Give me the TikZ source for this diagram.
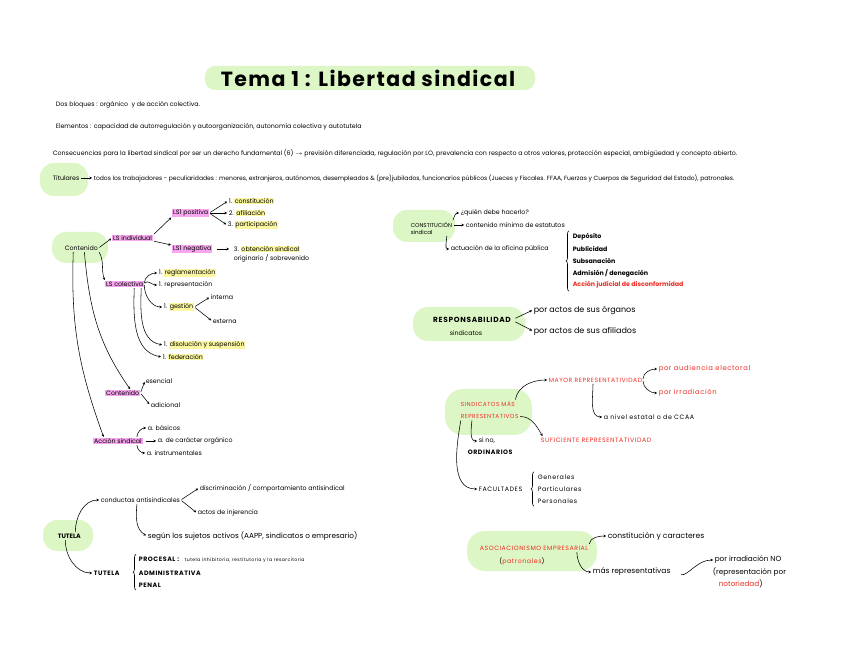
\documentclass[tikz,border=0pt]{standalone}
\usepackage{fontspec}
\setmainfont{Poppins}
\usetikzlibrary{arrows.meta,decorations.pathreplacing}
\definecolor{blob}{RGB}{221,246,197}
\definecolor{hlpink}{RGB}{246,165,238}
\definecolor{hlyel}{RGB}{250,247,160}
\definecolor{redt}{RGB}{238,45,35}
\newcommand\fs{\fontsize{6.3}{7.2}\selectfont}
\newcommand\lsp{\addfontfeature{LetterSpace=9}}
\newcommand\hly[1]{\begingroup\setlength\fboxsep{0.4pt}\colorbox{hlyel}{#1}\endgroup}
\begin{document}
\begin{tikzpicture}[x=1pt,y=1pt,
  t/.style={anchor=west, inner sep=0.6pt, font=\fs},
  pk/.style={fill=hlpink, inner ysep=0.4pt, inner xsep=1pt},
  rd/.style={text=redt},
  arr/.style={-{Stealth[length=2.6pt,width=2.6pt]}, line width=0.55pt, shorten >=1pt, shorten <=1pt},
  blobf/.style={fill=blob},
  brc/.style={decorate, decoration={brace, amplitude=3pt}, line width=0.55pt}]
\useasboundingbox (0,0) rectangle (848,656);
\fill[white] (0,0) rectangle (848,656);
% green blobs
\fill[blobf, rounded corners=10pt] (205,566) rectangle (535,590);
\fill[blobf, rounded corners=14pt] (40,460) rectangle (88,493);
\fill[blobf, rounded corners=14pt] (52,393) rectangle (108,424);
\fill[blobf, rounded corners=14pt] (43,105) rectangle (93,136);
\fill[blobf, rounded corners=14pt] (393,414) rectangle (455,446);
\fill[blobf, rounded corners=15pt] (413,315) rectangle (525,349);
\fill[blobf, rounded corners=18pt] (445,221) rectangle (532,267);
\fill[blobf, rounded corners=18pt] (467,85) rectangle (597,125);

% title and header lines
\node[font=\fontsize{20.5}{22}\selectfont\bfseries\addfontfeature{LetterSpace=7}] (title) at (368,578) {Tema 1 : Libertad sindical};
\node[t] (dos) at (55,551) {Dos bloques : orgánico \ y de acción colectiva.};
\node[t] (elem) at (55,529) {Elementos : capacidad de autorregulación y autoorganización, autonomía colectiva y autotutela};
\node[t] (cons) at (52,503) {Consecuencias para la libertad sindical por ser un derecho fundamental (6) $\rightarrow$ previsión diferenciada, regulación por LO, prevalencia con respecto a otros valores, protección especial, ambigüedad y concepto abierto.};
\node[t] (titul) at (52,478) {Titulares};
\node[t, font=\fontsize{6.05}{7}\selectfont] (todos) at (93,478) {todos los trabajadores - peculiaridades : menores, extranjeros, autónomos, desempleados \& (pre)jubilados, funcionarios públicos (Jueces y Fiscales. FFAA, Fuerzas y Cuerpos de Seguridad del Estado), patronales.};
\draw[arr] (titul.east) -- (todos.west);

% contenido tree
\node[t] (contenido) at (64,408) {Contenido};
\node[t,pk] (lsind) at (112,418) {LS individual};
\node[t,pk] (lspos) at (172,443) {LS1 positiva};
\node[t,pk] (lsneg) at (172,407) {LS1 negativa};
\node[t] (c1) at (228,455) {1. \hly{constitución}};
\node[t] (c2) at (228,443) {2. \hly{afiliación}};
\node[t] (c3) at (227,431) {3. \hly{participación}};
\node[t] (obt) at (233,407) {3. \hly{obtención sindical}};
\node[t] (orig) at (233,398) {originario / sobrevenido};
\node[t,pk] (lscol) at (105,372) {LS colectiva};
\node[t] (r1) at (158,383) {1. \hly{reglamentación}};
\node[t] (r2) at (158,371) {1. representación};
\node[t] (ges) at (163,349) {1. \hly{gestión}};
\node[t] (int) at (210,359) {interna};
\node[t] (ext) at (212,335) {externa};
\node[t] (dis) at (163,311) {1. \hly{disolución y suspensión}};
\node[t] (fed) at (162,299) {1. \hly{federación}};
\node[t,pk] (cont2) at (105,263) {Contenido};
\node[t] (esen) at (145,275) {esencial};
\node[t] (adic) at (150,251) {adicional};
\node[t,pk] (acc) at (93,215) {Acción sindical};
\node[t] (ab) at (147,228) {a. básicos};
\node[t] (ao) at (157,215) {a. de carácter orgánico};
\node[t] (ai) at (146,203) {a. instrumentales};

\draw[arr] (contenido.east) -- (lsind.west);
\draw[arr] (lsind.north east) -- (lspos.south west);
\draw[arr] (lsind.south east) -- (lsneg.north west);
\draw[arr] (lspos.east) -- (c1.west);
\draw[arr] (lspos.east) -- (c2.west);
\draw[arr] (lspos.east) -- (c3.west);
\draw[arr, shorten <=4pt, shorten >=4pt] (lsneg.east) -- (obt.west);
\draw[arr] (contenido.south east) to[out=-60,in=110] (lscol.north west);
\draw[arr] (lscol.east) to[out=90,in=180] (r1.west);
\draw[arr] (lscol.east) to[out=60,in=180] (r2.west);
\draw[arr] (lscol.east) to[out=-90,in=180] (ges.west);
\draw[arr] (ges.east) -- (int.west);
\draw[arr] (ges.east) -- (ext.west);
\draw[arr] ([xshift=-3pt]lscol.south east) to[out=-92,in=170] (dis.west);
\draw[arr] ([xshift=-10pt]lscol.south east) to[out=-92,in=170] (fed.west);
\draw[arr] ([xshift=3pt]contenido.south) to[out=-85,in=125] ([xshift=8pt]cont2.north);
\draw[arr] ([xshift=-8pt]contenido.south) to[out=-92,in=110] ([xshift=-14pt]acc.north);
\draw[arr] (cont2.east) -- (esen.west);
\draw[arr] (cont2.east) -- (adic.west);
\draw[arr] ([xshift=-6pt]acc.north east) to[out=90,in=180] (ab.west);
\draw[arr, shorten <=3pt] (acc.east) -- (ao.west);
\draw[arr] ([xshift=-6pt]acc.south east) to[out=-90,in=180] (ai.west);

% tutela
\node[t, font=\fs\bfseries] (tut) at (57,120) {TUTELA};
\node[t] (conduct) at (100,156) {conductas antisindicales};
\node[t] (disc) at (199,168) {discriminación / comportamiento antisindical};
\node[t] (inj) at (197,143) {actos de injerencia};
\node[t, font=\fontsize{7.3}{8}\selectfont] (seg) at (147,120) {según los sujetos activos (AAPP, sindicatos o empresario)};
\node[t, font=\fs\bfseries\lsp] (tut2) at (93,83) {TUTELA};
\node[t, font=\fs\bfseries\lsp] (proc) at (138,96) {PROCESAL : \ \ {\mdseries\fontsize{4.6}{5}\selectfont tutela inhibitoria, restitutoria y la resarcitoria}};
\node[t, font=\fs\bfseries\lsp] (adm) at (138,83) {ADMINISTRATIVA};
\node[t, font=\fs\bfseries\lsp] (pen) at (138,71) {PENAL};
\draw[arr] ([xshift=6pt]tut.north) to[out=90,in=180] (conduct.west);
\draw[arr] (conduct.east) -- (disc.west);
\draw[arr] (conduct.east) -- (inj.west);
\draw[arr] ([xshift=37pt]conduct.south west) to[out=-95,in=150] (seg.west);
\draw[arr] ([xshift=-4pt]tut.south) to[out=-90,in=180] (tut2.west);
\draw[brc] ([xshift=-2pt,yshift=-2pt]pen.south west) -- ([xshift=-2pt,yshift=2pt]proc.north west);

% constitución sindical
\node[t, align=left, font=\fontsize{5.6}{7}\selectfont] (const) at (410,428) {CONSTITUCIÓN\\sindical};
\node[t] (quien) at (460,443) {¿quién debe hacerlo?};
\node[t] (contmin) at (465,431) {contenido mínimo de estatutos};
\node[t] (actu) at (450,407) {actuación de la oficina pública};
\node[t, font=\fs\bfseries] (dep) at (572,419) {Depósito};
\node[t, font=\fs\bfseries] (pub) at (572,407) {Publicidad};
\node[t, font=\fs\bfseries] (sub) at (572,395) {Subsanación};
\node[t, font=\fs\bfseries] (adm2) at (572,383) {Admisión / denegación};
\node[t, rd, font=\fs\bfseries] (accj) at (572,371) {Acción judicial de disconformidad};
\draw[arr] (const.north east) to[out=80,in=180] (quien.west);
\draw[arr] (const.east |- contmin.west) -- (contmin.west);
\draw[arr] ([xshift=-6pt]const.south east) to[out=-90,in=180] (actu.west);
\draw[brc] ([xshift=-3pt,yshift=-2pt]accj.south west) -- ([xshift=-3pt,yshift=2pt]dep.north west);

% responsabilidad
\node[font=\fontsize{7.4}{8}\selectfont\bfseries\lsp, inner sep=0.6pt] (resp) at (472,336) {RESPONSABILIDAD};
\node[font=\fs, inner sep=0.6pt] (respsind) at (466,323) {sindicatos};
\node[t, font=\fontsize{8}{9}\selectfont] (org) at (533,346) {por actos de sus órganos};
\node[t, font=\fontsize{8}{9}\selectfont] (afil) at (533,325) {por actos de sus afiliados};
\draw[arr, shorten <=4pt] (resp.east) -- (org.west);
\draw[arr, shorten <=4pt] (resp.east) -- (afil.west);

% sindicatos más representativos
\node[t, rd, align=left, font=\fontsize{5.8}{12}\selectfont\lsp] (smr) at (460,246) {SINDICATOS MÁS\\REPRESENTATIVOS};
\node[t, rd, font=\fontsize{6.1}{7}\selectfont\lsp] (mayor) at (548,276) {MAYOR REPRESENTATIVIDAD};
\node[t, rd, font=\fontsize{6.8}{7.5}\selectfont\lsp] (aud) at (658,287) {por audiencia electoral};
\node[t, rd, font=\fontsize{6.8}{7.5}\selectfont\lsp] (irr) at (658,263) {por irradiación};
\node[t, font=\fs\lsp] (nivel) at (603,239) {a nivel estatal o de CCAA};
\node[t, rd, font=\fs\lsp] (suf) at (540,216) {SUFICIENTE REPRESENTATIVIDAD};
\node[t, font=\fontsize{6.4}{7}\selectfont] (sino) at (478,215) {si no,};
\node[t, font=\fs\bfseries\lsp] (ord) at (467,204) {ORDINARIOS};
\node[t, font=\fs\lsp] (fac) at (478,167) {FACULTADES};
\node[t, font=\fs\lsp] (gen) at (537,179) {Generales};
\node[t, font=\fs\lsp] (par) at (537,167) {Particulares};
\node[t, font=\fs\lsp] (per) at (537,155) {Personales};
\draw[arr] ([xshift=-4pt]smr.north east) to[out=80,in=180] (mayor.west);
\draw[arr] (mayor.east) to[out=90,in=180] (aud.west);
\draw[arr] (mayor.east) to[out=-90,in=180] (irr.west);
\draw[arr] ([xshift=45pt]mayor.south west) to[out=-90,in=180] (nivel.west);
\draw[arr] ([yshift=3pt]smr.south east) to[out=0,in=120] ([xshift=3pt]suf.north west);
\draw[arr] ([xshift=12pt]smr.south west) to[out=-95,in=180] (sino.west);
\draw[arr] ([xshift=1pt]smr.south west) to[out=-100,in=180] (fac.west);
\draw[brc] ([xshift=-3pt,yshift=-2pt]per.south west) -- ([xshift=-3pt,yshift=2pt]gen.north west);

% asociacionismo empresarial
\node[rd, font=\fontsize{6.2}{7}\selectfont\lsp, inner sep=0.6pt] (asoc) at (534,108) {ASOCIACIONISMO EMPRESARIAL};
\node[font=\fs\lsp, inner sep=0.6pt] (patr) at (522,95) {(\textcolor{redt}{patronales})};
\node[t, font=\fontsize{7.6}{8.5}\selectfont] (constcar) at (607,120) {constitución y caracteres};
\node[t, font=\fontsize{7.5}{8.5}\selectfont] (masrep) at (592,84) {más representativas};
\node[t, font=\fontsize{7.3}{8}\selectfont] (irr1) at (714,96) {por irradiación NO};
\node[t, font=\fontsize{7.3}{8}\selectfont] (irr2) at (712,84) {(representación por};
\node[t, font=\fontsize{7.3}{8}\selectfont] (irr3) at (718,72) {\textcolor{redt}{notoriedad})};
\draw[arr] (asoc.north east) to[out=80,in=180] (constcar.west);
\draw[arr] ([xshift=-12pt]asoc.south east) to[out=-90,in=180] (masrep.west);
\draw[arr, shorten <=10pt] (masrep.east) to[out=-15,in=180] (irr1.west);
\end{tikzpicture}
\end{document}
